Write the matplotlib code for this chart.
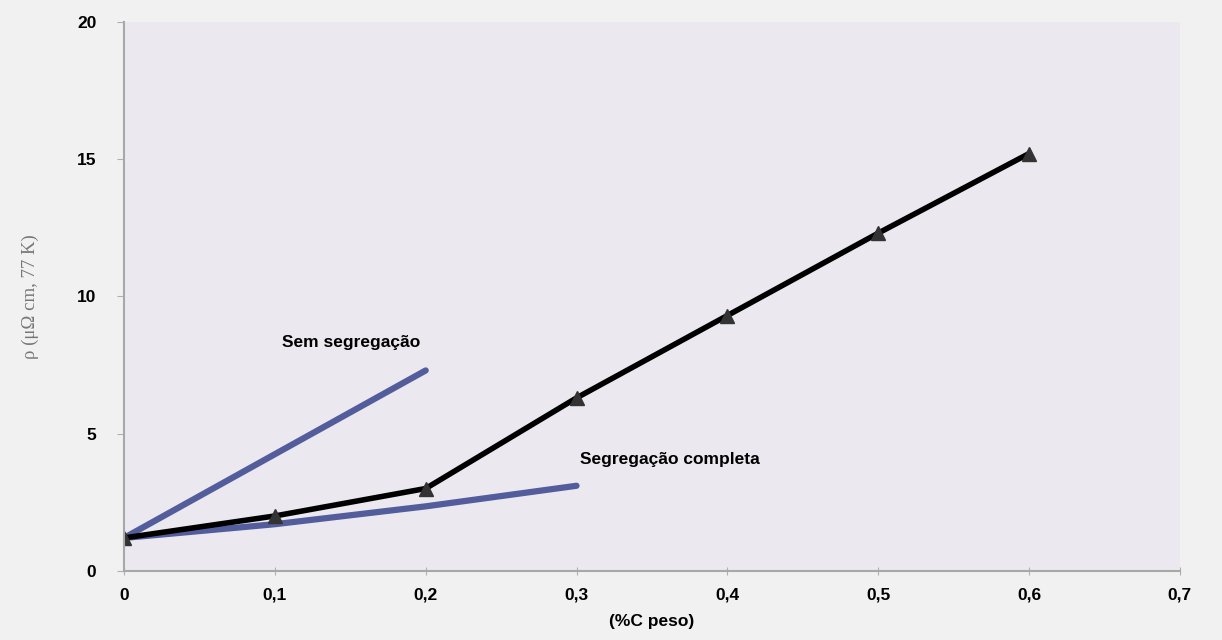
import matplotlib.pyplot as plt
from matplotlib.ticker import FixedLocator, FixedFormatter

# dados
carbono = [0, 0.1, 0.2, 0.3, 0.4, 0.5, 0.6]
rho_medido = [1.2, 2.0, 3.0, 6.3, 9.3, 12.3, 15.2]

carbono_sem = [0, 0.2]
rho_sem = [1.2, 7.3]

carbono_completa = [0, 0.1, 0.2, 0.3]
rho_completa = [1.2, 1.7, 2.35, 3.1]

x_ticks = [0, 0.1, 0.2, 0.3, 0.4, 0.5, 0.6, 0.7]
x_tick_labels = ['0', '0,1', '0,2', '0,3', '0,4', '0,5', '0,6', '0,7']
y_ticks = [0, 5, 10, 15, 20]
y_tick_labels = ['0', '5', '10', '15', '20']

plt.rcParams['font.family'] = ['Liberation Sans', 'DejaVu Sans']

fig = plt.figure(figsize=(12.22, 6.4), dpi=100)
fig.patch.set_facecolor('#f1f1f1')
ax = fig.add_axes([0.1015, 0.108, 0.864, 0.858])
ax.set_facecolor('#ebe9ef')

azul = '#535d9c'
ax.plot(carbono_sem, rho_sem, color=azul, lw=4.5, solid_capstyle='round')
ax.plot(carbono_completa, rho_completa, color=azul, lw=4.5, solid_capstyle='round')
ax.plot(carbono, rho_medido, color='black', lw=4, marker='^', markersize=10,
        markerfacecolor='#333333', markeredgecolor='#333333')

ax.text(0.105, 8.3, 'Sem segregação', fontsize=12.5, fontweight='bold', va='center')
ax.text(0.302, 4.05, 'Segregação completa', fontsize=12.5, fontweight='bold', va='center')

ax.set_xlim(0, 0.7)
ax.set_ylim(0, 20)
ax.xaxis.set_major_locator(FixedLocator(x_ticks))
ax.xaxis.set_major_formatter(FixedFormatter(x_tick_labels))
ax.yaxis.set_major_locator(FixedLocator(y_ticks))
ax.yaxis.set_major_formatter(FixedFormatter(y_tick_labels))

for lab in ax.get_xticklabels() + ax.get_yticklabels():
    lab.set_fontweight('bold')
    lab.set_fontsize(12.5)
ax.tick_params(axis='x', direction='inout', length=6, color='#b0b0b0', pad=9)
ax.tick_params(axis='y', direction='out', length=5, color='#b0b0b0', pad=15)

for side in ['top', 'right']:
    ax.spines[side].set_visible(False)
ax.spines['left'].set_color('#a8a8a8')
ax.spines['bottom'].set_color('#a8a8a8')
ax.spines['left'].set_linewidth(1.5)
ax.spines['bottom'].set_linewidth(1.5)

ax.set_xlabel('(%C peso)', fontsize=12.5, fontweight='bold', labelpad=8)
ax.set_ylabel('ρ (μΩ cm, 77 K)', fontsize=13.5, color='#777777',
              family=['Liberation Serif', 'DejaVu Serif'])
ax.yaxis.set_label_coords(-0.081, 0.5)

fig.savefig('out.png', dpi=100, facecolor=fig.get_facecolor())
